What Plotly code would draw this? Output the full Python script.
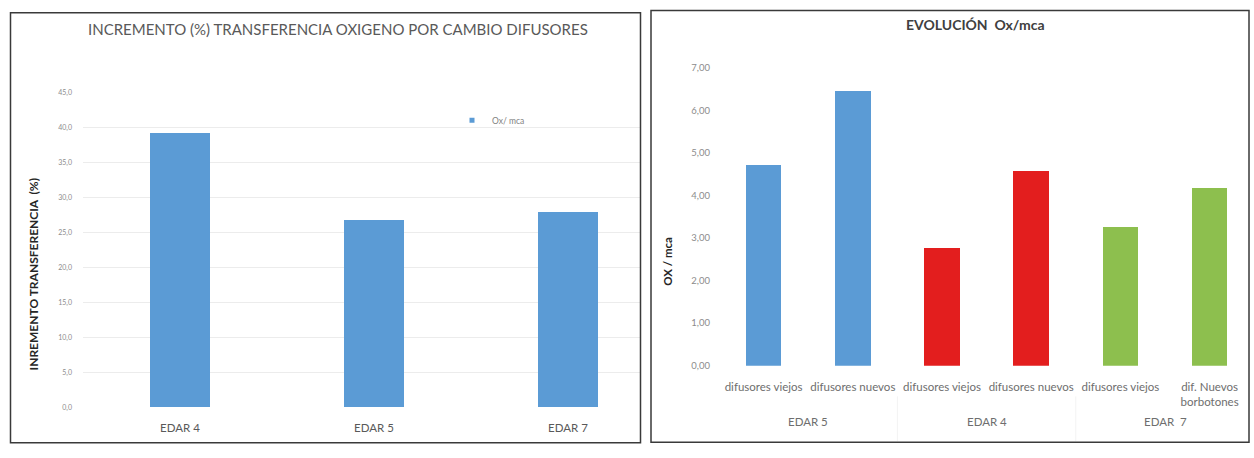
import plotly.graph_objects as go

# --- data -------------------------------------------------------------
edar_names = ["EDAR 4", "EDAR 5", "EDAR 7"]
incremento_pct = [39.1, 26.8, 27.9]
incremento_series = "Ox/ mca"

evol_groups = ["EDAR 5", "EDAR 5", "EDAR 4", "EDAR 4", "EDAR  7", "EDAR  7"]
evol_labels = ["difusores viejos", "difusores nuevos", "difusores viejos",
               "difusores nuevos", "difusores viejos", "dif. Nuevos<br>borbotones"]
evol_values = [4.71, 6.45, 2.78, 4.59, 3.27, 4.19]

group_colors = {"EDAR 5": "#5B9BD5", "EDAR 4": "#E31E1E", "EDAR  7": "#8DBF4E"}

W, H = 1254, 458
FONT = "Lato, 'Open Sans', sans-serif"


def px_x(v):
    return v / W


def px_y(v):
    return 1 - v / H


fig = go.Figure()

# left chart: percentage increase per plant
fig.add_trace(go.Bar(
    x=edar_names, y=incremento_pct, name=incremento_series,
    marker=dict(color="#5B9BD5", line=dict(width=0)),
    width=0.31, xaxis="x", yaxis="y", showlegend=False,
))
# small square legend key for the left chart's series
fig.add_trace(go.Scatter(
    x=[None], y=[None], mode="markers", name=incremento_series,
    marker=dict(symbol="square", size=5, color="#5B9BD5"),
    xaxis="x", yaxis="y", showlegend=True,
))

# right chart: Ox/mca before and after the diffuser change
evol_pos = list(range(len(evol_values)))
fig.add_trace(go.Bar(
    x=evol_pos, y=evol_values,
    marker=dict(color=[group_colors[g] for g in evol_groups], line=dict(width=0)),
    width=0.40, xaxis="x2", yaxis="y2", showlegend=False,
))

left_dom = [px_x(83), px_x(640)]
right_dom = [px_x(719), px_x(1249)]

fig.update_layout(
    width=W, height=H, autosize=False,
    margin=dict(l=0, r=0, t=0, b=0),
    paper_bgcolor="white", plot_bgcolor="white",
    separators=",.",
    font=dict(family=FONT, color="#595959"),
    bargap=0,
    xaxis=dict(
        domain=left_dom, range=[-0.5, -0.5 + (640 - 83) / 194.0],
        showgrid=False, zeroline=False, showline=False, ticks="",
        tickfont=dict(size=11.5, color="#595959"), ticklabelstandoff=12,
        fixedrange=True,
    ),
    yaxis=dict(
        domain=[px_y(411.7), px_y(88.5)], range=[0, 45], dtick=5,
        tickformat=".1f", showgrid=True, gridcolor="#ECECEC", gridwidth=1,
        zeroline=False, showline=False, ticks="",
        tickfont=dict(size=7, color="#8C8C8C"), ticklabelstandoff=10,
        fixedrange=True,
    ),
    xaxis2=dict(
        domain=right_dom, range=[-0.5, -0.5 + (1249 - 719) / 89.2],
        anchor="y2", showgrid=False, zeroline=False, showline=False, ticks="",
        tickmode="array", tickvals=evol_pos, ticktext=evol_labels,
        tickfont=dict(size=11.5, color="#6E6E6E"), ticklabelstandoff=13,
        fixedrange=True,
    ),
    yaxis2=dict(
        domain=[px_y(368.5), px_y(63.3)], range=[0, 7], dtick=1,
        anchor="x2", tickformat=".2f", showgrid=False,
        zeroline=False, showline=False, ticks="",
        tickfont=dict(size=9.5, color="#8C8C8C"), ticklabelstandoff=8,
        fixedrange=True,
    ),
    legend=dict(
        x=px_x(452), y=px_y(117), xanchor="left", yanchor="middle",
        bgcolor="rgba(0,0,0,0)", font=dict(size=8.5, color="#7F7F7F"),
        itemwidth=30, tracegroupgap=0, itemsizing="trace",
    ),
)

# group labels and separators under the right chart's categories
groups_in_order = []
for g in evol_groups:
    if g not in groups_in_order:
        groups_in_order.append(g)
for gi, g in enumerate(groups_in_order):
    idx = [i for i, gg in enumerate(evol_groups) if gg == g]
    center = sum(idx) / len(idx)
    fig.add_annotation(
        text=g.replace("  ", "&nbsp; "), x=center, y=px_y(426),
        xref="x2", yref="paper", xanchor="center", yanchor="middle",
        showarrow=False, font=dict(size=11.5, color="#6E6E6E"),
    )
    if gi > 0:
        edge = idx[0] - 0.5
        fig.add_shape(type="line", xref="x2", yref="paper",
                      x0=edge, x1=edge, y0=px_y(446), y1=px_y(400),
                      line=dict(color="#F3F3F3", width=1))

# panel frames
frame = dict(type="rect", xref="paper", yref="paper",
             line=dict(color="#3A3A3A", width=1.5), fillcolor="rgba(0,0,0,0)",
             layer="above")
fig.add_shape(x0=px_x(10.5), x1=px_x(640.5), y0=px_y(447.5), y1=px_y(7), **frame)
fig.add_shape(x0=px_x(651), x1=px_x(1249), y0=px_y(447), y1=px_y(4.5), **frame)

# titles
title_kw = dict(xref="paper", yref="paper", xanchor="center", yanchor="middle",
                showarrow=False)
fig.add_annotation(
    text="INCREMENTO (%) TRANSFERENCIA OXIGENO POR CAMBIO DIFUSORES",
    x=px_x(338), y=px_y(24), font=dict(size=15, color="#595959"), **title_kw,
)
fig.add_annotation(
    text="<b>EVOLUCIÓN  Ox/mca</b>",
    x=px_x(975), y=px_y(19), font=dict(size=14, color="#404040"), **title_kw,
)
# axis titles
fig.add_annotation(
    text="<b>INREMENTO TRANSFERENCIA  (%)</b>", textangle=-90,
    x=px_x(33), y=px_y(275), font=dict(size=12, color="#262626"), **title_kw,
)
fig.add_annotation(
    text="<b>OX / mca</b>", textangle=-90,
    x=px_x(668), y=px_y(262), font=dict(size=11.5, color="#262626"), **title_kw,
)

fig.write_html("out.html", config={"displayModeBar": False})
